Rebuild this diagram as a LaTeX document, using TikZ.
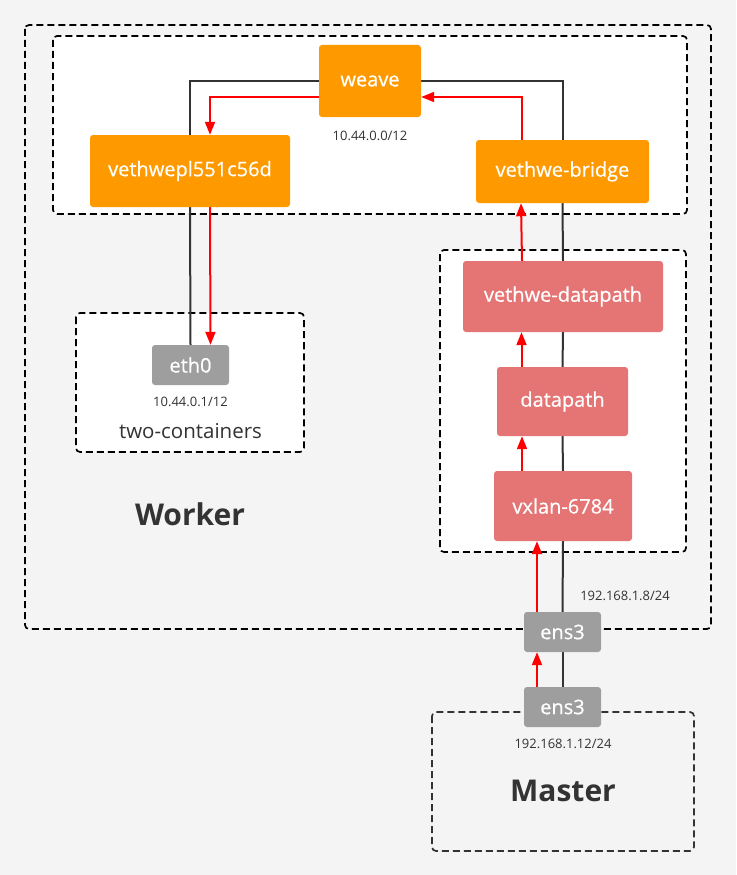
\documentclass[tikz,border=0pt]{standalone}
\usepackage{fontspec}
\setmainfont{Open Sans}
\newfontfamily\devfont{Open Sans}[FakeBold=0.6]
\usetikzlibrary{arrows.meta}
\definecolor{pagebg}{HTML}{F4F4F4}
\definecolor{weaveorange}{HTML}{FE9A00}
\definecolor{dpred}{HTML}{E57474}
\definecolor{ifgray}{HTML}{9E9E9E}
\definecolor{txtgray}{HTML}{333333}
\pgfdeclarelayer{boxes}
\pgfdeclarelayer{wires}
\pgfsetlayers{boxes,wires,main}
\begin{document}
\begin{tikzpicture}
[x=1pt,y=-1pt,
dev/.style={rectangle,rounded corners=3pt,text=white,inner sep=0pt,
font=\devfont\fontsize{20}{22}\selectfont},
orangebox/.style={dev,fill=weaveorange},
redbox/.style={dev,fill=dpred},
ifbox/.style={dev,fill=ifgray,minimum width=77pt,minimum height=40pt},
group/.style={draw=black,line width=1.7pt,dash pattern=on 7pt off 4pt,rounded corners=4pt},
wire/.style={draw=black!80,line width=2pt},
flow/.style={draw=red,line width=2pt,-{Triangle[length=13pt,width=10pt]}},
addr/.style={text=txtgray,font=\fontsize{13}{15}\selectfont},
host/.style={text=txtgray,font=\bfseries\fontsize{30}{34}\selectfont}]
       \useasboundingbox (0,0) rectangle (736,875);
       % groups
       \begin{pgfonlayer}{boxes}
       \fill[pagebg] (0,0) rectangle (736,875);
       \draw[group,fill=pagebg] (25,25) rectangle (711,629);
       \draw[group,fill=white] (53,36) rectangle (687,214);
       \draw[group,fill=white] (76,313) rectangle (304,452);
       \draw[group,fill=white] (440,250) rectangle (686,552);
       \draw[group,draw=txtgray,fill=pagebg] (432,712) rectangle (694,851);
       \end{pgfonlayer}
       % devices
       \node (weave) at (370,81) [orangebox,minimum width=102pt,minimum height=72pt] {weave};
       \node (vethwepl) at (190,171) [orangebox,minimum width=200pt,minimum height=72pt] {vethwepl551c56d};
       \node (bridge) at (562.5,171.5) [orangebox,minimum width=173pt,minimum height=63pt] {vethwe-bridge};
       \node (vdp) at (563,296.5) [redbox,minimum width=200pt,minimum height=71pt] {vethwe-datapath};
       \node (dp) at (562.5,401.5) [redbox,minimum width=131pt,minimum height=69pt] {datapath};
       \node (vx) at (563,506) [redbox,minimum width=138pt,minimum height=70pt] {vxlan-6784};
       \node (eth0) at (190.5,365) [ifbox] {eth0};
       \node (ens3w) at (562.5,632) [ifbox] {ens3};
       \node (ens3m) at (562.5,707) [ifbox] {ens3};
       % texts
       \node (weaveip) at (370,136) [addr] {10.44.0.0/12};
       \node (eth0ip) at (190.5,402) [addr] {10.44.0.1/12};
       \node (pod) at (190.5,431) [text=txtgray,font=\fontsize{20.5}{22}\selectfont] {two-containers};
       \node (worker) at (190,514) [host] {Worker};
       \node (ens3wip) at (625,596) [addr] {192.168.1.8/24};
       \node (ens3mip) at (563,744) [addr] {192.168.1.12/24};
       \node (master) at (563,791) [host] {Master};
       % links
       \begin{pgfonlayer}{wires}
       \draw[wire] (vethwepl.north) |- (weave.west);
       \draw[wire] (weave.east) -| (bridge.north);
       \draw[wire] (vethwepl.south) -- (eth0.north);
       \draw[wire] (bridge.south) -- (vdp.north);
       \draw[wire] (vdp.south) -- (dp.north);
       \draw[wire] (dp.south) -- (vx.north);
       \draw[wire] (vx.south) -- (ens3w.north);
       \draw[wire] (ens3w.south) -- (ens3m.north);
       \draw[flow] ([yshift=-16pt]weave.west) -| ([xshift=20pt]vethwepl.north);
       \draw[flow] ([xshift=-41pt]bridge.north) |- ([yshift=-16pt]weave.east);
       \draw[flow] ([xshift=20pt]vethwepl.south) -- ([xshift=20pt]eth0.north);
       \draw[flow] ([xshift=-41pt]vdp.north) -- ([xshift=-41.5pt]bridge.south);
       \draw[flow] ([xshift=-41pt]dp.north) -- ([xshift=-41.5pt]vdp.south);
       \draw[flow] ([xshift=-41pt]vx.north) -- ([xshift=-40.5pt]dp.south);
       \draw[flow] ([xshift=-25.5pt]ens3w.north) -- ([xshift=-26pt]vx.south);
       \draw[flow] ([xshift=-25.5pt]ens3m.north) -- ([xshift=-25.5pt]ens3w.south);
       \end{pgfonlayer}
    \end{tikzpicture}
\end{document}
